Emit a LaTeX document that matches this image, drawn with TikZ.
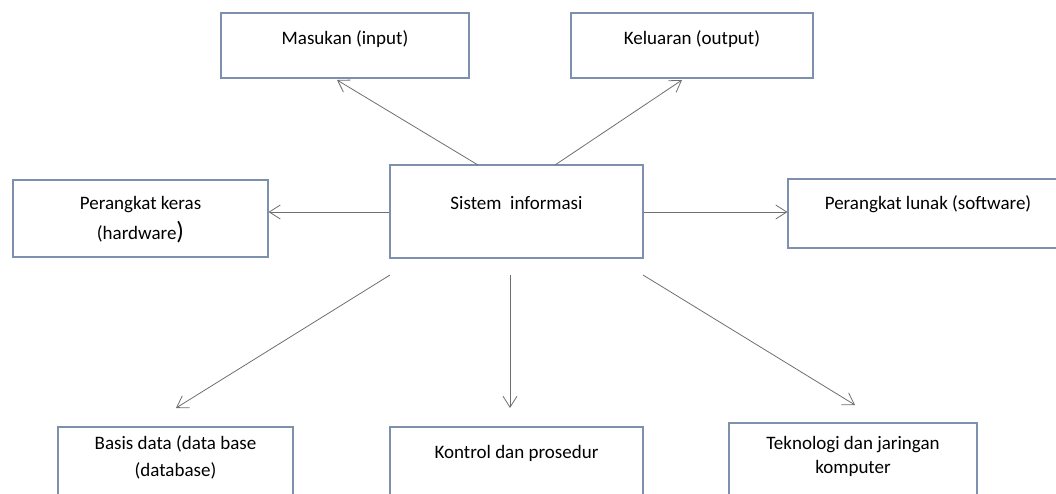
\documentclass[tikz,border=0pt]{standalone}
\usepackage{fontspec}
\setmainfont{Carlito}
\usetikzlibrary{arrows.meta}
\definecolor{boxblue}{RGB}{125,145,175}
\definecolor{linegray}{RGB}{110,110,110}
\tikzset{
	box/.style={
		rectangle,
		draw=boxblue,
		line width=1.1pt,
		inner sep=0pt,
		anchor=base,
		align=center,
		font=\fontsize{19}{27}\selectfont
	},
	line/.style={-{Straight Barb[length=11pt,width=14pt]},draw=linegray,line width=0.8pt}
}

\begin{document}
\begin{tikzpicture}[x=1pt,y=-1pt]
		\useasboundingbox (0,0) rectangle (1056,493);
		\node[box,minimum width=248pt,text height=31pt,text depth=34pt] (input) at (345,44) {Masukan (input)};
		\node[box,minimum width=242pt,text height=31pt,text depth=34pt] (output) at (692,44) {Keluaran (output)};
		\node[box,minimum width=255pt,text height=59pt,text depth=18pt] (hardware) at (140.5,239) {Perangkat keras\\[3pt](hardware{\fontsize{25}{27}\selectfont)}};
		\node[box,minimum width=253pt,text height=44pt,text depth=49pt] (sistem) at (516.5,209) {Sistem~~informasi};
		\node[box,minimum width=280pt,text height=30pt,text depth=39pt] (software) at (928,209) {Perangkat lunak (software)};
		\node[box,minimum width=235pt,text height=49pt,text depth=44pt] (basis) at (175.5,476) {Basis data (data base\\(database)};
		\node[box,minimum width=253pt,text height=31pt,text depth=62pt] (kontrol) at (516.5,458) {Kontrol dan prosedur};
		\node[box,minimum width=248pt,text height=50pt,text depth=47pt] (teknologi) at (853,473) {Teknologi dan jaringan\\[-3pt]komputer};

		\draw[line] (478,165) -- (337,80);
		\draw[line] (555,165) -- (682,80);
		\draw[line] (sistem.west |- 0,212) -- (hardware.east |- 0,212);
		\draw[line] (sistem.east |- 0,212) -- (software.west |- 0,212);
		\draw[line] (390,275) -- (176,408);
		\draw[line] (510,275) -- (510,408);
		\draw[line] (643,275) -- (855,405);
	\end{tikzpicture}
\end{document}
